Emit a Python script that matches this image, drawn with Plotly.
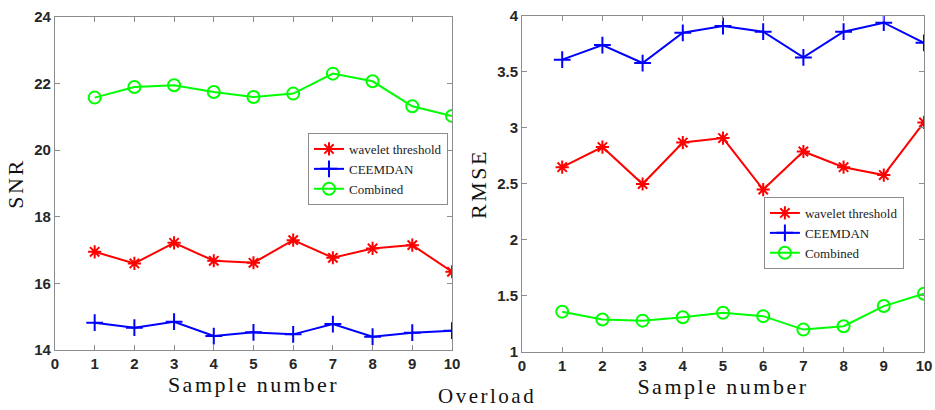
import plotly.graph_objects as go

samples = [1, 2, 3, 4, 5, 6, 7, 8, 9, 10]

snr_wavelet = [16.95, 16.60, 17.22, 16.68, 16.62, 17.30, 16.77, 17.05, 17.15, 16.35]
snr_ceemdan = [14.82, 14.67, 14.85, 14.42, 14.53, 14.47, 14.78, 14.40, 14.52, 14.58]
snr_combined = [21.58, 21.90, 21.95, 21.75, 21.60, 21.70, 22.30, 22.07, 21.32, 21.03]

rmse_wavelet = [2.65, 2.83, 2.50, 2.87, 2.91, 2.45, 2.79, 2.65, 2.58, 3.05]
rmse_ceemdan = [3.61, 3.74, 3.58, 3.85, 3.91, 3.86, 3.63, 3.86, 3.94, 3.76]
rmse_combined = [1.36, 1.29, 1.28, 1.31, 1.35, 1.32, 1.20, 1.23, 1.41, 1.52]

x_ticks = [0, 1, 2, 3, 4, 5, 6, 7, 8, 9, 10]
snr_ticks = [14, 16, 18, 20, 22, 24]
rmse_ticks = [1, 1.5, 2, 2.5, 3, 3.5, 4]
rmse_tick_labels = ["1", "1.5", "2", "2.5", "3", "3.5", "4"]

names = ["wavelet threshold", "CEEMDAN", "Combined"]
colors = ["#ff0000", "#0000ff", "#00ff00"]
symbols = ["asterisk-open", "cross-thin-open", "circle-open"]
sizes = [11, 12, 12]

fig = go.Figure()

def add_series(ys, i, xa, ya, legend):
    fig.add_trace(go.Scatter(
        x=samples, y=ys, mode="lines+markers", name=names[i],
        line=dict(color=colors[i], width=2),
        marker=dict(symbol=symbols[i], size=sizes[i], color=colors[i],
                    line=dict(color=colors[i], width=2)),
        xaxis=xa, yaxis=ya, legend=legend,
    ))

for i, ys in enumerate([snr_wavelet, snr_ceemdan, snr_combined]):
    add_series(ys, i, "x", "y", "legend")
for i, ys in enumerate([rmse_wavelet, rmse_ceemdan, rmse_combined]):
    add_series(ys, i, "x2", "y2", "legend2")

def bold(labels):
    return ["<b>%s</b>" % l for l in labels]

tickfont = dict(family="Liberation Sans", size=15, color="#262626")
titlefont = dict(family="Liberation Serif", size=22, color="#111111")
axcommon = dict(showline=True, linecolor="#8c8c8c", linewidth=1, mirror="ticks",
                ticks="inside", ticklen=5, tickcolor="#8c8c8c", showgrid=False,
                zeroline=False, tickfont=tickfont, automargin=False, tickmode="array")

fig.update_layout(
    width=935, height=410,
    margin=dict(l=0, r=0, t=0, b=0),
    plot_bgcolor="white", paper_bgcolor="white",
    xaxis=dict(domain=[0.0588, 0.4834], range=[0, 10],
               tickvals=x_ticks, ticktext=bold([str(v) for v in x_ticks]),
               title=dict(text="Sample number", standoff=0, font=titlefont), anchor="y", **axcommon),
    yaxis=dict(domain=[0.1463, 0.9585], range=[14, 24],
               tickvals=snr_ticks, ticktext=bold([str(v) for v in snr_ticks]),
               title=dict(text="SNR", standoff=4, font=titlefont), anchor="x", **axcommon),
    xaxis2=dict(domain=[0.5583, 0.9882], range=[0, 10],
                tickvals=x_ticks, ticktext=bold([str(v) for v in x_ticks]),
                title=dict(text="Sample number", standoff=0, font=titlefont), anchor="y2", **axcommon),
    yaxis2=dict(domain=[0.1415, 0.961], range=[1, 4],
                tickvals=rmse_ticks, ticktext=bold(rmse_tick_labels),
                title=dict(text="RMSE", standoff=4, font=titlefont), anchor="x2", **axcommon),
    legend=dict(x=0.3294, y=0.6756, xanchor="left", yanchor="top",
                bgcolor="white", bordercolor="#8c8c8c", borderwidth=1,
                font=dict(family="Liberation Serif", size=13, color="#222222"),
                tracegroupgap=0, itemwidth=30),
    legend2=dict(x=0.817, y=0.5195, xanchor="left", yanchor="top",
                 bgcolor="white", bordercolor="#8c8c8c", borderwidth=1,
                 font=dict(family="Liberation Serif", size=13, color="#222222"),
                 tracegroupgap=0, itemwidth=30),
    annotations=[dict(text="Overload", x=0.521, y=0.0, xref="paper", yref="paper",
                      xanchor="center", yanchor="bottom", showarrow=False,
                      font=dict(family="Liberation Serif", size=21, color="#111111"))],
)

post = (
    "document.body.style.margin='0';"
    "document.querySelectorAll('.xtitle,.x2title,.ytitle,.y2title,.annotation-text')"
    ".forEach(function(t){t.style.letterSpacing='2.5px';});"
)

fig.write_html("out.html", post_script=post, config={"displayModeBar": False})
